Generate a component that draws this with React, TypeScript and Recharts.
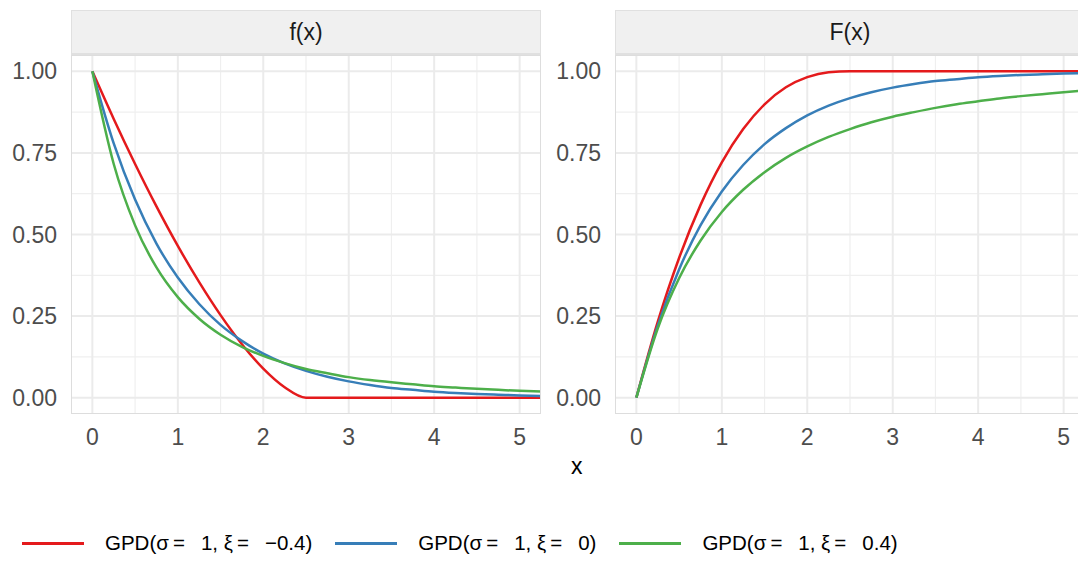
import React from 'react';
import { LineChart, Line, XAxis, YAxis, CartesianGrid } from 'recharts';

// x grid shared by both facets
const xs = [0, 0.25, 0.5, 0.75, 1, 1.25, 1.5, 1.75, 2, 2.25, 2.5, 2.75, 3, 3.25, 3.5, 3.75, 4, 4.25, 4.5, 4.75, 5, 5.25];

// density f(x)
const pdfNeg = [1, 0.854, 0.716, 0.586, 0.465, 0.354, 0.253, 0.164, 0.089, 0.032, 0, 0, 0, 0, 0, 0, 0, 0, 0, 0, 0, 0];
const pdfZero = [1, 0.779, 0.607, 0.472, 0.368, 0.287, 0.223, 0.174, 0.135, 0.105, 0.082, 0.064, 0.05, 0.039, 0.03, 0.024, 0.018, 0.014, 0.011, 0.009, 0.007, 0.005];
const pdfPos = [1, 0.716, 0.528, 0.399, 0.308, 0.242, 0.193, 0.156, 0.128, 0.106, 0.088, 0.075, 0.063, 0.054, 0.047, 0.041, 0.035, 0.031, 0.027, 0.024, 0.021, 0.019];

// distribution F(x)
const cdfNeg = [0, 0.232, 0.428, 0.59, 0.721, 0.823, 0.899, 0.951, 0.982, 0.997, 1, 1, 1, 1, 1, 1, 1, 1, 1, 1, 1, 1];
const cdfZero = [0, 0.221, 0.393, 0.528, 0.632, 0.713, 0.777, 0.826, 0.865, 0.895, 0.918, 0.936, 0.95, 0.961, 0.97, 0.976, 0.982, 0.986, 0.989, 0.991, 0.993, 0.995];
const cdfPos = [0, 0.212, 0.366, 0.481, 0.569, 0.637, 0.691, 0.735, 0.77, 0.799, 0.823, 0.844, 0.861, 0.875, 0.888, 0.899, 0.908, 0.917, 0.924, 0.93, 0.936, 0.941];

const xTicks = [0, 1, 2, 3, 4, 5];
const xMinor = [0.5, 1.5, 2.5, 3.5, 4.5];
const yTicks = [0, 0.25, 0.5, 0.75, 1];
const yMinor = [0.125, 0.375, 0.625, 0.875];

// plotmath-like spacing around "="
const seriesNames = ['GPD(σ\u2009=\u2002 1, ξ\u2009=\u2002 −0.4)', 'GPD(σ\u2009=\u2002 1, ξ\u2009=\u2002 0)', 'GPD(σ\u2009=\u2002 1, ξ\u2009=\u2002 0.4)'];
const seriesColors = ['#E41A1C', '#377EB8', '#4DAF4A'];

const pdfRows = xs.map((x, i) => ({ x, a: pdfNeg[i], b: pdfZero[i], c: pdfPos[i] }));
const cdfRows = xs.map((x, i) => ({ x, a: cdfNeg[i], b: cdfZero[i], c: cdfPos[i] }));

const FONT = '"Liberation Sans", Arial, sans-serif';
const tickStyle = { fontSize: 23, fill: '#4D4D4D', fontFamily: FONT };

const Facet = ({ title, data, left }: { title: string; data: any[]; left: number }) => (
  <div style={{ position: 'absolute', left, top: 0, width: 545, height: 460 }}>
    <div
      style={{
        position: 'absolute', left: 71, top: 10, width: 468, height: 42,
        background: '#F0F0F0', border: '1px solid #E0E0E0', borderBottomWidth: 2,
        display: 'flex', alignItems: 'center', justifyContent: 'center',
        fontFamily: FONT, fontSize: 23, color: '#1A1A1A',
      }}
    >
      {title}
    </div>
    <LineChart width={545} height={460} data={data} margin={{ top: 55, right: 4, bottom: 0, left: 0 }}>
      <CartesianGrid stroke="#EFEFEF" strokeWidth={1.2} horizontalValues={yMinor} verticalValues={xMinor} />
      <CartesianGrid stroke="#EBEBEB" strokeWidth={2} horizontalValues={yTicks} verticalValues={xTicks} />
      <XAxis
        dataKey="x" type="number" domain={[-0.25, 5.25]} ticks={xTicks} allowDataOverflow
        axisLine={false} tickLine={false} tickSize={0} tickMargin={15} height={46}
        tick={tickStyle} interval={0}
      />
      <YAxis
        type="number" domain={[-0.05, 1.05]} ticks={yTicks} allowDataOverflow
        axisLine={false} tickLine={false} tickSize={0} tickMargin={14} width={71}
        tick={tickStyle} interval={0} tickFormatter={(v: number) => v.toFixed(2)}
      />
      {['a', 'b', 'c'].map((k, i) => (
        <Line key={k} type="monotone" dataKey={k} stroke={seriesColors[i]} strokeWidth={2.5} dot={false} isAnimationActive={false} />
      ))}
    </LineChart>
    <div
      style={{
        position: 'absolute', left: 71, top: 55, width: 468, height: 357,
        border: '1px solid #DDDDDD', pointerEvents: 'none',
      }}
    />
  </div>
);

export default function App() {
  return (
    <div style={{ position: 'fixed', left: 0, top: 0, width: 1078, height: 561, overflow: 'hidden', background: '#fff' }}>
      <Facet title="f(x)" data={pdfRows} left={0} />
      <Facet title="F(x)" data={cdfRows} left={544} />
      <div style={{ position: 'absolute', left: 571, top: 453, fontFamily: FONT, fontSize: 23, color: '#000' }}>x</div>
      <div
        style={{
          position: 'absolute', left: 22, top: 531, display: 'flex', alignItems: 'center',
          fontFamily: FONT, fontSize: 20.5, color: '#000', whiteSpace: 'pre',
        }}
      >
        {seriesNames.map((name, i) => (
          <div key={name} style={{ display: 'flex', alignItems: 'center', marginRight: 23 }}>
            <div style={{ width: 62, height: 3, background: seriesColors[i], marginRight: 21 }} />
            <span>{name}</span>
          </div>
        ))}
      </div>
    </div>
  );
}
